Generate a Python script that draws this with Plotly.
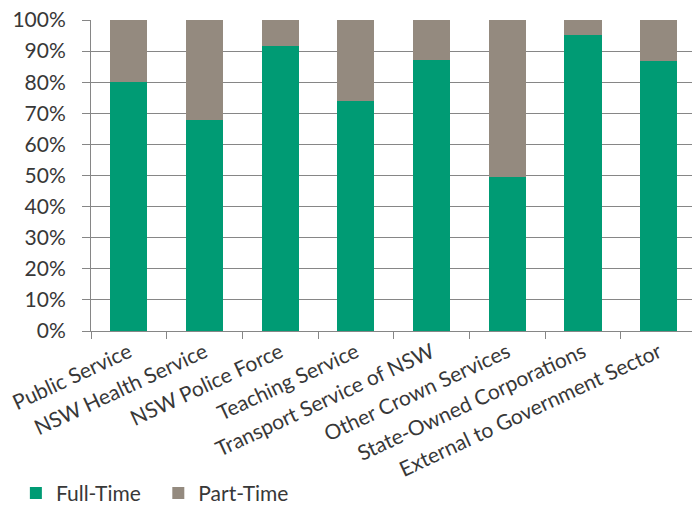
import plotly.graph_objects as go

categories = ["Public Service", "NSW Health Service", "NSW Police Force", "Teaching Service",
              "Transport Service of NSW", "Other Crown Services", "State-Owned Corporations",
              "External to Government Sector"]
full_time = [80.2, 68.0, 91.5, 73.8, 87.2, 49.6, 95.2, 86.9]
part_time = [round(100 - v, 1) for v in full_time]

GREEN = "#009B74"
GREY = "#948A7F"
TXT = "#383838"
FONT = "Lato"

fig = go.Figure()
fig.add_trace(go.Bar(name="Full-Time", x=categories, y=full_time, marker_color=GREEN,
                     marker_line_width=0, legend="legend"))
fig.add_trace(go.Bar(name="Part-Time", x=categories, y=part_time, marker_color=GREY,
                     marker_line_width=0, legend="legend2"))

legend_common = dict(orientation="h", xanchor="left", y=-0.522, yanchor="middle",
                     font=dict(size=21, color=TXT), bgcolor="rgba(0,0,0,0)")
fig.update_layout(
    width=692, height=507,
    barmode="stack", bargap=0.51,
    margin=dict(l=91, r=0, t=20, b=176, autoexpand=False),
    plot_bgcolor="white", paper_bgcolor="white",
    font=dict(family=FONT, size=20, color=TXT),
    showlegend=True,
    legend=dict(x=-0.125, **legend_common),
    legend2=dict(x=0.112, **legend_common),
)
fig.update_xaxes(range=[-0.5, 7.44], tickangle=-25, ticks="outside", tickson="boundaries",
                 ticklen=7, tickcolor="#868686", showline=True, linecolor="#868686",
                 linewidth=1, tickfont=dict(size=21, color=TXT), automargin=False)
fig.update_yaxes(range=[0, 100], dtick=10, ticksuffix="%", showgrid=True, gridcolor="#868686",
                 gridwidth=1, showline=True, linecolor="#868686", linewidth=1,
                 ticks="outside", ticklen=8, tickcolor="#868686", ticklabelstandoff=12,
                 tickfont=dict(size=21, color=TXT), zeroline=False, automargin=False)

fig.write_html("out.html")
